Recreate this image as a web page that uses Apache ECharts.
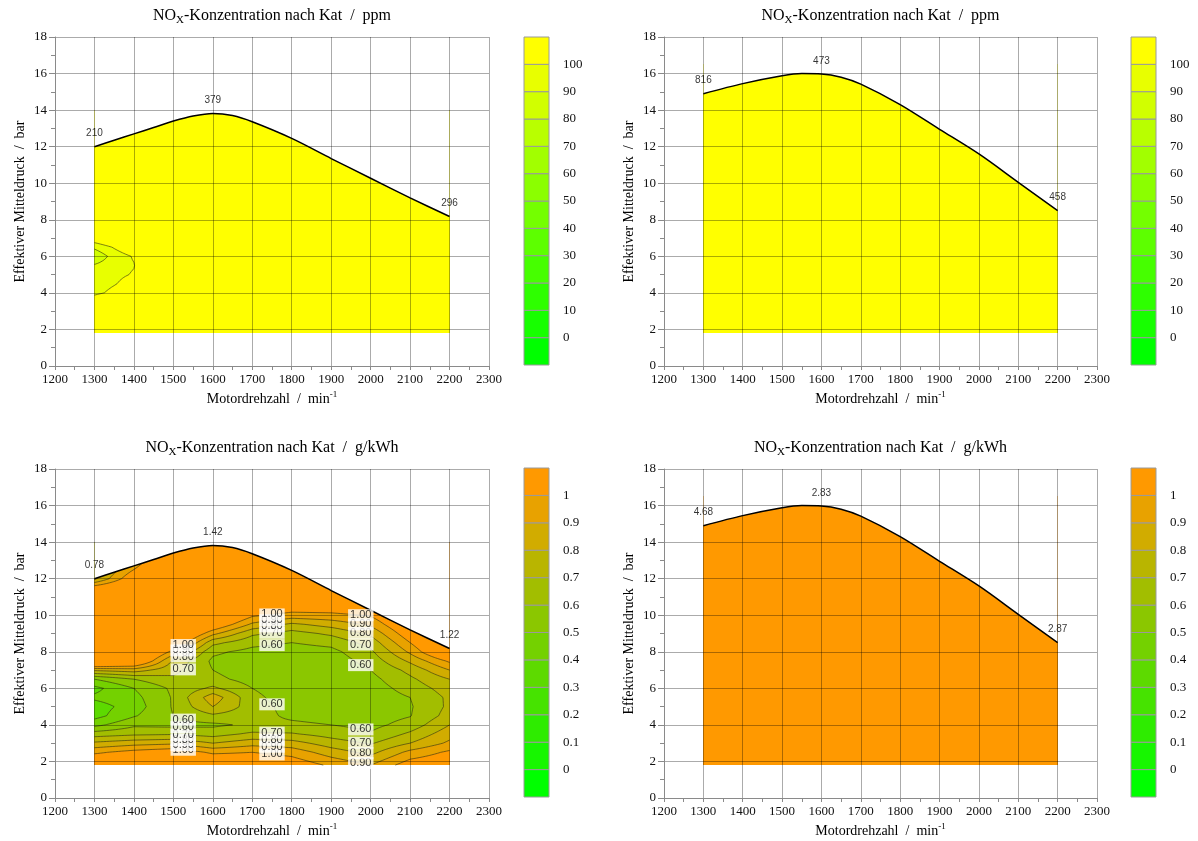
<!DOCTYPE html>
<html>
<head>
<meta charset="utf-8">
<script src="https://cdn.jsdelivr.net/npm/echarts@6/dist/echarts.min.js"></script>
<style>
  html, body { margin: 0; padding: 0; background: #fff; }
  #chart { width: 1198px; height: 841px; }
</style>
</head>
<body>
<div id="chart"></div>
<script>
const SERIF = "'Liberation Serif', 'Times New Roman', serif";
const SANS = "'Liberation Sans', Arial, sans-serif";

// Upper load limit of the mapped operating range (left and right test series)
const envLeftRpm  = [1300, 1350, 1400, 1450, 1500, 1550, 1600, 1650, 1700, 1800, 1900, 2000, 2100, 2200];
const envLeftBar  = [12.0, 12.35, 12.7, 13.05, 13.4, 13.68, 13.82, 13.7, 13.36, 12.45, 11.35, 10.27, 9.2, 8.18];
const envRightRpm = [1300, 1400, 1500, 1550, 1600, 1650, 1700, 1800, 1900, 2000, 2100, 2200];
const envRightBar = [14.9, 15.45, 15.88, 16.0, 15.98, 15.8, 15.42, 14.3, 12.95, 11.6, 10.05, 8.5];

// Values printed at the boundary points 1300 / 1600 / 2200 min-1
const cornerRpm       = [1300, 1600, 2200];
const ppmLeftCorner   = ['210', '379', '296'];
const ppmRightCorner  = ['816', '473', '458'];
const gkwhLeftCorner  = ['0.78', '1.42', '1.22'];
const gkwhRightCorner = ['4.68', '2.83', '2.87'];

// Colour-scale tick labels
const ppmTicks  = [0, 10, 20, 30, 40, 50, 60, 70, 80, 90, 100];
const gkwhTicks = [0, 0.1, 0.2, 0.3, 0.4, 0.5, 0.6, 0.7, 0.8, 0.9, 1.0];

// NOx after catalyst, ppm, left series: grid nodes and values (rows = load)
const ppmLeftRpm = [1300, 1350, 1400, 1500, 1600, 2200];
const ppmLeftBar = [1.8, 3.5, 4.0, 4.5, 5.0, 5.5, 6.0, 6.5, 7.0, 8.0, 12.0, 14.0];
const ppmLeftVal = [
  [140, 150, 160, 180, 200, 250],
  [112, 125, 135, 160, 190, 260],
  [96, 104, 114, 150, 185, 270],
  [93, 99, 106, 140, 180, 275],
  [95, 97, 101, 135, 180, 280],
  [91, 96, 99.5, 130, 180, 285],
  [82, 94, 101, 130, 185, 288],
  [92, 101, 110, 135, 190, 290],
  [108, 115, 125, 145, 200, 293],
  [150, 160, 170, 190, 240, 296],
  [210, 240, 280, 320, 360, 300],
  [215, 250, 300, 350, 381, 300]
];

// NOx after catalyst, ppm, right series
const ppmRightRpm = [1300, 1600, 2200];
const ppmRightBar = [1.8, 8.5, 14.9, 16.5];
const ppmRightVal = [
  [600, 500, 480],
  [700, 520, 458],
  [816, 480, 440],
  [800, 470, 430]
];

// NOx after catalyst, g/kWh, left series
const gkwhLeftRpm = [1300, 1400, 1500, 1600, 1700, 1800, 1900, 2000, 2100, 2200];
const gkwhLeftBar = [1.8, 2.5, 3.0, 3.5, 4.0, 4.5, 5.0, 5.5, 6.0, 6.5, 7.0, 7.5, 8.0, 8.5, 9.0, 9.5, 10.0, 11.0, 12.0, 13.0, 14.0];
const gkwhLeftVal = [
  [1.15, 1.15, 1.16, 1.15, 1.12, 1.08, 0.98, 0.90, 1.06, 1.10],
  [0.98, 1.04, 1.08, 0.98, 1.00, 0.96, 0.85, 0.77, 0.93, 1.02],
  [0.82, 0.86, 0.88, 0.80, 0.86, 0.84, 0.75, 0.69, 0.80, 0.92],
  [0.65, 0.68, 0.69, 0.66, 0.72, 0.71, 0.66, 0.61, 0.72, 0.86],
  [0.47, 0.58, 0.57, 0.58, 0.62, 0.62, 0.60, 0.57, 0.64, 0.80],
  [0.36, 0.49, 0.60, 0.68, 0.64, 0.58, 0.56, 0.55, 0.595, 0.74],
  [0.35, 0.45, 0.61, 0.80, 0.65, 0.56, 0.53, 0.54, 0.59, 0.72],
  [0.42, 0.47, 0.61, 0.86, 0.63, 0.54, 0.52, 0.54, 0.60, 0.72],
  [0.37, 0.50, 0.62, 0.72, 0.60, 0.53, 0.52, 0.55, 0.64, 0.75],
  [0.50, 0.60, 0.68, 0.63, 0.56, 0.52, 0.52, 0.57, 0.68, 0.80],
  [0.82, 0.85, 0.73, 0.60, 0.53, 0.52, 0.53, 0.60, 0.73, 0.90],
  [1.30, 1.20, 0.78, 0.58, 0.54, 0.53, 0.54, 0.64, 0.82, 1.02],
  [1.30, 1.30, 0.96, 0.62, 0.57, 0.55, 0.57, 0.68, 0.92, 1.20],
  [1.30, 1.30, 1.15, 0.73, 0.63, 0.60, 0.63, 0.74, 1.00, 1.25],
  [1.30, 1.30, 1.25, 0.93, 0.72, 0.66, 0.72, 0.82, 1.08, 1.25],
  [1.30, 1.30, 1.30, 1.12, 0.88, 0.78, 0.84, 0.92, 1.15, 1.25],
  [1.30, 1.30, 1.30, 1.25, 1.02, 0.96, 0.97, 1.01, 1.20, 1.25],
  [1.35, 1.30, 1.30, 1.30, 1.25, 1.20, 1.20, 1.20, 1.20, 1.25],
  [0.78, 1.10, 1.30, 1.35, 1.30, 1.30, 1.25, 1.20, 1.20, 1.25],
  [0.70, 0.90, 1.25, 1.40, 1.35, 1.35, 1.30, 1.25, 1.20, 1.25],
  [0.70, 0.90, 1.25, 1.42, 1.35, 1.35, 1.30, 1.25, 1.20, 1.25]
];
// Engine speeds at which the contour levels are annotated
const gkwhLabelRpm = [1525, 1750, 1975];

// NOx after catalyst, g/kWh, right series
const gkwhRightRpm = [1300, 1600, 2200];
const gkwhRightBar = [1.8, 8.5, 14.9, 16.5];
const gkwhRightVal = [
  [3.2, 2.7, 2.5],
  [3.8, 2.9, 2.87],
  [4.68, 2.85, 2.6],
  [4.6, 2.82, 2.6]
];

// ---------- colour classes ----------
function ramp(c0, c1, n) {
  const out = [];
  for (let k = 0; k < n; k++) {
    const f = k / (n - 1);
    const c = c0.map((v, m) => Math.round(v + (c1[m] - v) * f));
    out.push('rgb(' + c.join(',') + ')');
  }
  return out;
}
const ppmColours  = ramp([0, 255, 0], [255, 255, 0], 12);
const gkwhColours = ramp([0, 255, 0], [255, 153, 0], 12);

function bandOf(v, step) {
  const k = Math.floor(v / step + 1e-9) + 1;
  return k < 0 ? 0 : (k > 11 ? 11 : k);
}
const clamp01 = v => (v < 0 ? 0 : (v > 1 ? 1 : v));
const bilerp = (z00, z10, z01, z11, s, t) =>
  (1 - s) * (1 - t) * z00 + s * (1 - t) * z10 + (1 - s) * t * z01 + s * t * z11;

function fieldAt(F, x, y) {
  let i = 0; while (i < F.x.length - 2 && x > F.x[i + 1]) i++;
  let j = 0; while (j < F.y.length - 2 && y > F.y[j + 1]) j++;
  const s = clamp01((x - F.x[i]) / (F.x[i + 1] - F.x[i]));
  const t = clamp01((y - F.y[j]) / (F.y[j + 1] - F.y[j]));
  return bilerp(F.z[j][i], F.z[j][i + 1], F.z[j + 1][i], F.z[j + 1][i + 1], s, t);
}
function interp(xs, ys, x) {
  for (let k = 0; k < xs.length - 1; k++) {
    if (x >= xs[k] && x <= xs[k + 1]) return ys[k] + (ys[k + 1] - ys[k]) * (x - xs[k]) / (xs[k + 1] - xs[k]);
  }
  return x < xs[0] ? ys[0] : ys[ys.length - 1];
}

// Filled contour bands: each grid cell is painted pixel row by pixel row
function fieldRenderer(F, colours, step) {
  return function (params, api) {
    const i = api.value(2), j = api.value(3);
    const pA = api.coord([F.x[i], F.y[j]]);
    const pB = api.coord([F.x[i + 1], F.y[j + 1]]);
    const xL = Math.round(pA[0]), xR = Math.round(pB[0]);
    const yB = Math.round(pA[1]), yT = Math.round(pB[1]);
    const z00 = F.z[j][i], z10 = F.z[j][i + 1], z01 = F.z[j + 1][i], z11 = F.z[j + 1][i + 1];
    const children = [];
    for (let r = yT; r < yB; r++) {
      const t = clamp01((pA[1] - (r + 0.5)) / (pA[1] - pB[1]));
      let runStart = xL, runBand = -1;
      for (let c = xL; c <= xR; c++) {
        let band = -2;
        if (c < xR) {
          const s = clamp01((c + 0.5 - pA[0]) / (pB[0] - pA[0]));
          band = bandOf(bilerp(z00, z10, z01, z11, s, t), step);
        }
        if (band !== runBand) {
          if (runBand >= 0) {
            children.push({ type: 'rect', shape: { x: runStart, y: r, width: c - runStart, height: 1 },
              style: { fill: colours[runBand] } });
          }
          runStart = c; runBand = band;
        }
      }
    }
    return { type: 'group', children: children };
  };
}

// Contour lines: marching squares on a sub-sampled bilinear cell
function contourRenderer(F, levels) {
  return function (params, api) {
    const i = api.value(2), j = api.value(3);
    const pA = api.coord([F.x[i], F.y[j]]);
    const pB = api.coord([F.x[i + 1], F.y[j + 1]]);
    const w = pB[0] - pA[0], h = pA[1] - pB[1];
    const nx = Math.max(1, Math.round(w / 3)), ny = Math.max(1, Math.round(h / 3));
    const z00 = F.z[j][i], z10 = F.z[j][i + 1], z01 = F.z[j + 1][i], z11 = F.z[j + 1][i + 1];
    const g = [];
    for (let b = 0; b <= ny; b++) {
      const row = [];
      for (let a = 0; a <= nx; a++) row.push(bilerp(z00, z10, z01, z11, a / nx, b / ny));
      g.push(row);
    }
    const P = (a, b) => [pA[0] + a / nx * w, pA[1] - b / ny * h];
    let d = '';
    levels.forEach(L => {
      for (let b = 0; b < ny; b++) {
        for (let a = 0; a < nx; a++) {
          const c = [[a, b, g[b][a]], [a + 1, b, g[b][a + 1]], [a + 1, b + 1, g[b + 1][a + 1]], [a, b + 1, g[b + 1][a]]];
          const pts = [];
          for (let e = 0; e < 4; e++) {
            const p = c[e], q = c[(e + 1) % 4];
            if ((p[2] >= L) !== (q[2] >= L)) {
              const f = (L - p[2]) / (q[2] - p[2]);
              pts.push(P(p[0] + (q[0] - p[0]) * f, p[1] + (q[1] - p[1]) * f));
            }
          }
          for (let k = 0; k + 1 < pts.length; k += 2) {
            d += 'M' + pts[k][0].toFixed(2) + ' ' + pts[k][1].toFixed(2) +
                 'L' + pts[k + 1][0].toFixed(2) + ' ' + pts[k + 1][1].toFixed(2);
          }
        }
      }
    });
    if (!d) return { type: 'group', children: [] };
    return { type: 'path', shape: { pathData: d },
      style: { fill: 'none', stroke: 'rgba(45,45,20,0.85)', lineWidth: 0.7 } };
  };
}

function contourLabels(F, cols, levels, envRpm, envBar) {
  const out = [];
  cols.forEach(x => {
    const top = interp(envRpm, envBar, x) - 0.2;
    let yPrev = F.y[0], vPrev = fieldAt(F, x, yPrev);
    for (let y = F.y[0] + 0.01; y <= top; y += 0.01) {
      const v = fieldAt(F, x, y);
      levels.forEach(L => {
        if ((vPrev >= L) !== (v >= L)) {
          out.push([x, yPrev + (L - vPrev) / (v - vPrev) * (y - yPrev), L.toFixed(2)]);
        }
      });
      yPrev = y; vPrev = v;
    }
  });
  return out;
}

// ---------- layout ----------
const panels = [
  { plot: { left: 55, top: 37, width: 434, height: 329 }, bar: { left: 524, top: 37, width: 25, height: 328 },
    unit: 'ppm', F: { x: ppmLeftRpm, y: ppmLeftBar, z: ppmLeftVal }, envRpm: envLeftRpm, envBar: envLeftBar,
    corner: ppmLeftCorner, colours: ppmColours, step: 10, ticks: ppmTicks, labelRpm: [] },
  { plot: { left: 664, top: 37, width: 433, height: 329 }, bar: { left: 1131, top: 37, width: 25, height: 328 },
    unit: 'ppm', F: { x: ppmRightRpm, y: ppmRightBar, z: ppmRightVal }, envRpm: envRightRpm, envBar: envRightBar,
    corner: ppmRightCorner, colours: ppmColours, step: 10, ticks: ppmTicks, labelRpm: [] },
  { plot: { left: 55, top: 469, width: 434, height: 329 }, bar: { left: 524, top: 468, width: 25, height: 329 },
    unit: 'g/kWh', F: { x: gkwhLeftRpm, y: gkwhLeftBar, z: gkwhLeftVal }, envRpm: envLeftRpm, envBar: envLeftBar,
    corner: gkwhLeftCorner, colours: gkwhColours, step: 0.1, ticks: gkwhTicks, labelRpm: gkwhLabelRpm },
  { plot: { left: 664, top: 469, width: 433, height: 329 }, bar: { left: 1131, top: 468, width: 25, height: 329 },
    unit: 'g/kWh', F: { x: gkwhRightRpm, y: gkwhRightBar, z: gkwhRightVal }, envRpm: envRightRpm, envBar: envRightBar,
    corner: gkwhRightCorner, colours: gkwhColours, step: 0.1, ticks: gkwhTicks, labelRpm: [] }
];

const option = { animation: false, backgroundColor: '#fff', grid: [], xAxis: [], yAxis: [], series: [], graphic: [] };
const axisGrey = '#8a8a8a';
const tickFont = { fontFamily: SERIF, fontSize: 13, color: '#111' };

panels.forEach(p => {
  const gi = option.grid.length;
  option.grid.push(Object.assign({ outerBoundsMode: 'none' }, p.plot));
  option.xAxis.push({
    gridIndex: gi, type: 'value', min: 1200, max: 2300, interval: 100, z: 4,
    axisLine: { show: true, onZero: false, lineStyle: { color: axisGrey } },
    axisTick: { show: true, length: 4, lineStyle: { color: axisGrey } },
    minorTick: { show: true, splitNumber: 2, length: 4, lineStyle: { color: axisGrey } },
    splitLine: { show: true, lineStyle: { color: 'rgba(0,0,0,0.33)', width: 1 } },
    axisLabel: Object.assign({ margin: 7, formatter: v => String(Math.round(v)) }, tickFont),
    name: '{m|Motordrehzahl  /  min}{p|-1}', nameLocation: 'middle', nameGap: 24,
    nameTextStyle: { rich: {
      m: { fontFamily: SERIF, fontSize: 14, color: '#000', lineHeight: 18 },
      p: { fontFamily: SERIF, fontSize: 9, color: '#000', lineHeight: 10, verticalAlign: 'top' } } }
  });
  const ax = option.xAxis.length - 1;
  option.yAxis.push({
    gridIndex: gi, type: 'value', min: 0, max: 18, interval: 2, z: 4,
    axisLine: { show: true, onZero: false, lineStyle: { color: axisGrey } },
    axisTick: { show: true, length: 6, lineStyle: { color: axisGrey } },
    minorTick: { show: true, splitNumber: 2, length: 4, lineStyle: { color: axisGrey } },
    splitLine: { show: true, lineStyle: { color: 'rgba(0,0,0,0.33)', width: 1 } },
    axisLabel: Object.assign({ margin: 8 }, tickFont),
    name: 'Effektiver Mitteldruck  /  bar', nameLocation: 'middle', nameGap: 28, nameRotate: 90,
    nameTextStyle: { fontFamily: SERIF, fontSize: 14, color: '#000' }
  });
  const ay = option.yAxis.length - 1;

  const F = p.F;
  const cells = [];
  for (let j = 0; j < F.y.length - 1; j++)
    for (let i = 0; i < F.x.length - 1; i++) cells.push([F.x[i], F.y[j], i, j]);
  const levels = p.ticks.slice();

  option.series.push({ type: 'custom', xAxisIndex: ax, yAxisIndex: ay, z: 1, silent: true,
    encode: { x: 0, y: 1 }, data: cells, renderItem: fieldRenderer(F, p.colours, p.step) });
  option.series.push({ type: 'custom', xAxisIndex: ax, yAxisIndex: ay, z: 2, silent: true,
    encode: { x: 0, y: 1 }, data: cells, renderItem: contourRenderer(F, levels) });

  // load limit: white above, black boundary line
  option.series.push({ type: 'line', xAxisIndex: ax, yAxisIndex: ay, z: 3, silent: true,
    data: p.envRpm.map((x, k) => [x, p.envBar[k]]), smooth: 0.3, symbol: 'none',
    lineStyle: { color: '#000', width: 1.5 },
    areaStyle: { color: '#fff', opacity: 1, origin: 'end' } });

  // boundary values
  option.series.push({ type: 'scatter', xAxisIndex: ax, yAxisIndex: ay, z: 6, silent: true,
    symbolSize: 0.1, itemStyle: { color: 'rgba(0,0,0,0)' },
    data: cornerRpm.map((x, k) => [x, p.envBar[p.envRpm.indexOf(x)], p.corner[k]]),
    label: { show: true, position: 'top', distance: 8, formatter: q => q.value[2],
      fontFamily: SANS, fontSize: 10, color: '#000' } });

  if (p.labelRpm.length) {
    option.series.push({ type: 'scatter', xAxisIndex: ax, yAxisIndex: ay, z: 7, silent: true,
      symbolSize: 0.1, itemStyle: { color: 'rgba(0,0,0,0)' },
      data: contourLabels(F, p.labelRpm, levels.filter(L => L > 0), p.envRpm, p.envBar),
      label: { show: true, position: 'inside', formatter: q => q.value[2],
        fontFamily: SANS, fontSize: 11, color: '#000', backgroundColor: '#fff', padding: [1, 2, 0, 2] } });
  }

  // colour scale
  const bi = option.grid.length;
  option.grid.push(Object.assign({ outerBoundsMode: 'none' }, p.bar));
  option.xAxis.push({ gridIndex: bi, type: 'value', min: 0, max: 1, show: false });
  const step = p.step, last = p.ticks[p.ticks.length - 1];
  option.yAxis.push({ gridIndex: bi, type: 'value', min: -step, max: last + step, interval: step,
    position: 'right', axisLine: { show: false }, axisTick: { show: false }, splitLine: { show: false },
    axisLabel: Object.assign({ margin: 14, formatter: v => {
      const r = Math.round(v / step) * step;
      if (r < -1e-9 || r > last + 1e-9) return '';
      return String(parseFloat(r.toFixed(2)));
    } }, tickFont) });
  const bands = [];
  for (let k = 0; k < 12; k++) bands.push([0.5, (k - 0.5) * step, k]);
  option.series.push({ type: 'custom', xAxisIndex: option.xAxis.length - 1, yAxisIndex: option.yAxis.length - 1,
    silent: true, encode: { x: 0, y: 1 }, data: bands,
    renderItem: (params, api) => {
      const k = api.value(2);
      const lo = (k - 1) * step, hi = k * step;
      const a = api.coord([0, lo]), b = api.coord([1, hi]);
      return { type: 'rect', shape: { x: a[0], y: b[1], width: b[0] - a[0], height: a[1] - b[1] },
        style: { fill: p.colours[k], stroke: '#9a9a9a', lineWidth: 1 } };
    } });

  // title
  option.graphic.push({ type: 'text', x: p.plot.left + p.plot.width / 2, y: p.plot.top - 21,
    style: { text: '{a|NO}{s|X}{a|-Konzentration nach Kat  /  ' + p.unit + '}', align: 'center', verticalAlign: 'middle',
      rich: { a: { fontFamily: SERIF, fontSize: 16, fill: '#000', lineHeight: 20 },
              s: { fontFamily: SERIF, fontSize: 11, fill: '#000', lineHeight: 11, verticalAlign: 'bottom' } } } });
});

const chart = echarts.init(document.getElementById('chart'), null, { renderer: 'canvas' });
chart.setOption(option);
</script>
</body>
</html>
